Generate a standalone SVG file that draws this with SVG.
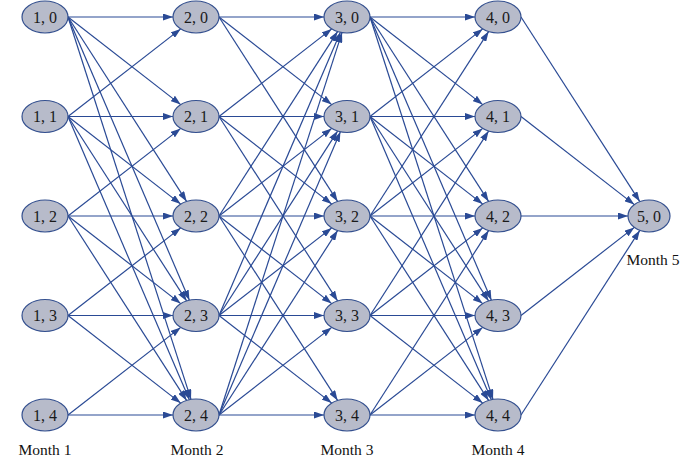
<svg xmlns="http://www.w3.org/2000/svg" width="681" height="464" viewBox="0 0 681 464">
<style>
.n ellipse{fill:#b7bbca;stroke:#34508f;stroke-width:1.2}
.n text{font-family:"Liberation Serif","Times New Roman",serif;font-size:16px;fill:#1a1a1a;text-anchor:middle}
.e line{stroke:#2a4a95;stroke-width:1.2;marker-end:url(#ah)}
.m{font-family:"Liberation Serif","Times New Roman",serif;font-size:15.5px;fill:#111;text-anchor:middle}
</style>
<defs>
<marker id="ah" markerUnits="userSpaceOnUse" markerWidth="10" markerHeight="7" refX="10" refY="3.5" orient="auto">
<path d="M0,0 L10,3.5 L0,7 z" fill="#2a4a95"/>
</marker>
</defs>
<g id="connectors" class="e">
<line x1="68" y1="17" x2="173" y2="17"/>
<line x1="68" y1="17" x2="180.7" y2="104.6"/>
<line x1="68" y1="17" x2="186.6" y2="201.4"/>
<line x1="68" y1="17" x2="189.4" y2="300.2"/>
<line x1="68" y1="17" x2="191" y2="399.4"/>
<line x1="68" y1="116.5" x2="180.7" y2="28.9"/>
<line x1="68" y1="116.5" x2="173" y2="116.5"/>
<line x1="68" y1="116.5" x2="180.7" y2="204.1"/>
<line x1="68" y1="116.5" x2="186.6" y2="300.9"/>
<line x1="68" y1="116.5" x2="189.4" y2="399.7"/>
<line x1="68" y1="216" x2="180.7" y2="128.4"/>
<line x1="68" y1="216" x2="173" y2="216"/>
<line x1="68" y1="216" x2="180.7" y2="303.6"/>
<line x1="68" y1="216" x2="186.6" y2="400.4"/>
<line x1="68" y1="315.5" x2="180.7" y2="227.9"/>
<line x1="68" y1="315.5" x2="173" y2="315.5"/>
<line x1="68" y1="315.5" x2="180.7" y2="403.1"/>
<line x1="68" y1="415" x2="180.7" y2="327.4"/>
<line x1="68" y1="415" x2="173" y2="415"/>

<line x1="219" y1="17" x2="324" y2="17"/>
<line x1="219" y1="17" x2="331.7" y2="104.6"/>
<line x1="219" y1="17" x2="337.6" y2="201.4"/>
<line x1="219" y1="116.5" x2="331.7" y2="28.9"/>
<line x1="219" y1="116.5" x2="324" y2="116.5"/>
<line x1="219" y1="116.5" x2="331.7" y2="204.1"/>
<line x1="219" y1="116.5" x2="337.6" y2="300.9"/>
<line x1="219" y1="216" x2="337.6" y2="31.6"/>
<line x1="219" y1="216" x2="331.7" y2="128.4"/>
<line x1="219" y1="216" x2="324" y2="216"/>
<line x1="219" y1="216" x2="331.7" y2="303.6"/>
<line x1="219" y1="216" x2="337.6" y2="400.4"/>
<line x1="219" y1="315.5" x2="340.4" y2="32.3"/>
<line x1="219" y1="315.5" x2="337.6" y2="131.1"/>
<line x1="219" y1="315.5" x2="331.7" y2="227.9"/>
<line x1="219" y1="315.5" x2="324" y2="315.5"/>
<line x1="219" y1="315.5" x2="331.7" y2="403.1"/>
<line x1="219" y1="415" x2="342" y2="32.6"/>
<line x1="219" y1="415" x2="340.4" y2="131.8"/>
<line x1="219" y1="415" x2="337.6" y2="230.6"/>
<line x1="219" y1="415" x2="331.7" y2="327.4"/>
<line x1="219" y1="415" x2="324" y2="415"/>

<line x1="370" y1="17" x2="475" y2="17"/>
<line x1="370" y1="17" x2="482.7" y2="104.6"/>
<line x1="370" y1="17" x2="488.6" y2="201.4"/>
<line x1="370" y1="17" x2="491.4" y2="300.2"/>
<line x1="370" y1="17" x2="493" y2="399.4"/>
<line x1="370" y1="116.5" x2="482.7" y2="28.9"/>
<line x1="370" y1="116.5" x2="475" y2="116.5"/>
<line x1="370" y1="116.5" x2="482.7" y2="204.1"/>
<line x1="370" y1="116.5" x2="488.6" y2="300.9"/>
<line x1="370" y1="116.5" x2="491.4" y2="399.7"/>
<line x1="370" y1="216" x2="488.6" y2="31.6"/>
<line x1="370" y1="216" x2="482.7" y2="128.4"/>
<line x1="370" y1="216" x2="475" y2="216"/>
<line x1="370" y1="216" x2="482.7" y2="303.6"/>
<line x1="370" y1="216" x2="488.6" y2="400.4"/>
<line x1="370" y1="315.5" x2="488.6" y2="131.1"/>
<line x1="370" y1="315.5" x2="482.7" y2="227.9"/>
<line x1="370" y1="315.5" x2="475" y2="315.5"/>
<line x1="370" y1="315.5" x2="482.7" y2="403.1"/>
<line x1="370" y1="415" x2="488.6" y2="230.6"/>
<line x1="370" y1="415" x2="482.7" y2="327.4"/>
<line x1="370" y1="415" x2="475" y2="415"/>

<line x1="521" y1="17" x2="639.8" y2="201.6"/>
<line x1="521" y1="116.5" x2="634.3" y2="204.6"/>
<line x1="521" y1="216" x2="628" y2="216"/>
<line x1="521" y1="315.5" x2="634.3" y2="227.4"/>
<line x1="521" y1="415" x2="639.8" y2="230.4"/>
</g>
<g id="n1_0" class="n"><ellipse cx="45" cy="17" rx="23" ry="16"/><text x="45" y="22.5">1, 0</text></g>
<g id="n1_1" class="n"><ellipse cx="45" cy="116.5" rx="23" ry="16"/><text x="45" y="122">1, 1</text></g>
<g id="n1_2" class="n"><ellipse cx="45" cy="216" rx="23" ry="16"/><text x="45" y="221.5">1, 2</text></g>
<g id="n1_3" class="n"><ellipse cx="45" cy="315.5" rx="23" ry="16"/><text x="45" y="321">1, 3</text></g>
<g id="n1_4" class="n"><ellipse cx="45" cy="415" rx="23" ry="16"/><text x="45" y="420.5">1, 4</text></g>
<g id="n2_0" class="n"><ellipse cx="196" cy="17" rx="23" ry="16"/><text x="196" y="22.5">2, 0</text></g>
<g id="n2_1" class="n"><ellipse cx="196" cy="116.5" rx="23" ry="16"/><text x="196" y="122">2, 1</text></g>
<g id="n2_2" class="n"><ellipse cx="196" cy="216" rx="23" ry="16"/><text x="196" y="221.5">2, 2</text></g>
<g id="n2_3" class="n"><ellipse cx="196" cy="315.5" rx="23" ry="16"/><text x="196" y="321">2, 3</text></g>
<g id="n2_4" class="n"><ellipse cx="196" cy="415" rx="23" ry="16"/><text x="196" y="420.5">2, 4</text></g>
<g id="n3_0" class="n"><ellipse cx="347" cy="17" rx="23" ry="16"/><text x="347" y="22.5">3, 0</text></g>
<g id="n3_1" class="n"><ellipse cx="347" cy="116.5" rx="23" ry="16"/><text x="347" y="122">3, 1</text></g>
<g id="n3_2" class="n"><ellipse cx="347" cy="216" rx="23" ry="16"/><text x="347" y="221.5">3, 2</text></g>
<g id="n3_3" class="n"><ellipse cx="347" cy="315.5" rx="23" ry="16"/><text x="347" y="321">3, 3</text></g>
<g id="n3_4" class="n"><ellipse cx="347" cy="415" rx="23" ry="16"/><text x="347" y="420.5">3, 4</text></g>
<g id="n4_0" class="n"><ellipse cx="498" cy="17" rx="23" ry="16"/><text x="498" y="22.5">4, 0</text></g>
<g id="n4_1" class="n"><ellipse cx="498" cy="116.5" rx="23" ry="16"/><text x="498" y="122">4, 1</text></g>
<g id="n4_2" class="n"><ellipse cx="498" cy="216" rx="23" ry="16"/><text x="498" y="221.5">4, 2</text></g>
<g id="n4_3" class="n"><ellipse cx="498" cy="315.5" rx="23" ry="16"/><text x="498" y="321">4, 3</text></g>
<g id="n4_4" class="n"><ellipse cx="498" cy="415" rx="23" ry="16"/><text x="498" y="420.5">4, 4</text></g>
<g id="n5_0" class="n"><ellipse cx="649" cy="216" rx="21" ry="16"/><text x="649" y="221.5">5, 0</text></g>
<g id="labels">
<text class="m" x="45" y="455">Month 1</text>
<text class="m" x="197" y="455">Month 2</text>
<text class="m" x="347" y="455">Month 3</text>
<text class="m" x="498" y="455">Month 4</text>
<text class="m" x="653" y="265">Month 5</text>
</g>
</svg>
